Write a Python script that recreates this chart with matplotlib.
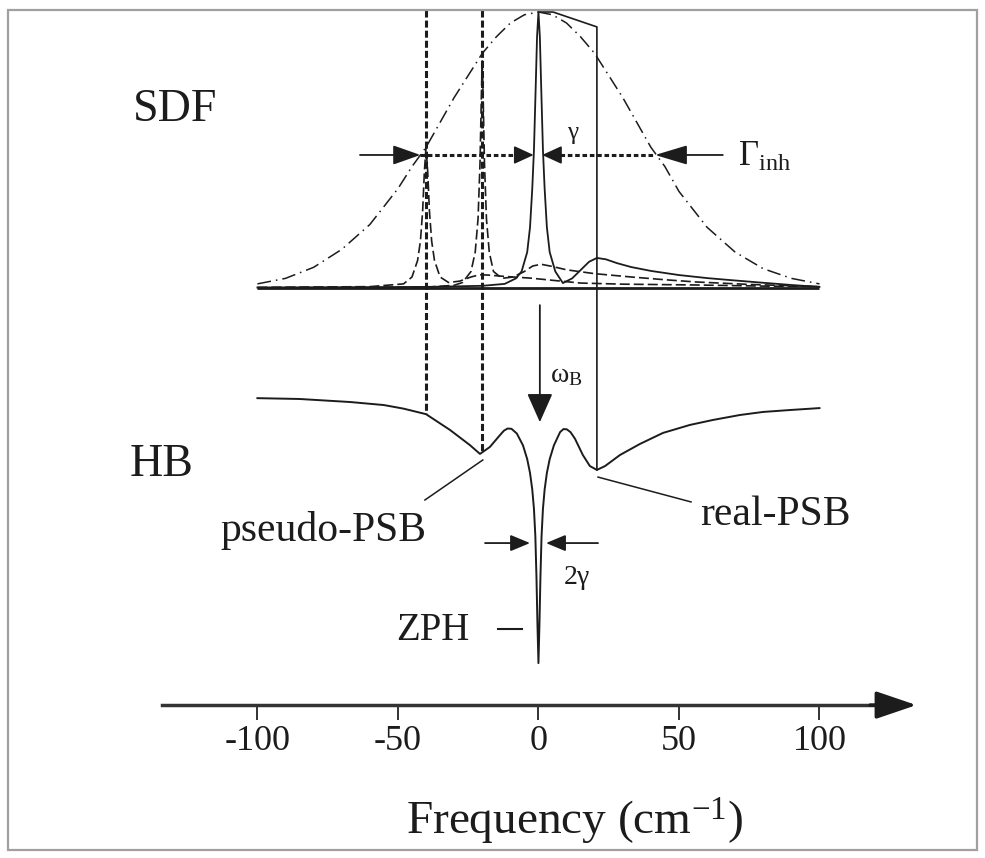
import numpy as np
import matplotlib
matplotlib.use("Agg")
import matplotlib.pyplot as plt
from matplotlib.patches import Rectangle

plt.rcParams["font.family"] = ["Liberation Serif", "DejaVu Serif"]
plt.rcParams["mathtext.fontset"] = "custom"
plt.rcParams["mathtext.rm"] = "Liberation Serif"
plt.rcParams["mathtext.it"] = "Liberation Serif"
plt.rcParams["mathtext.bf"] = "Liberation Serif:bold"

INK = "#1c1c1c"

# frequency axis (cm^-1)
FREQ_TICKS = [-100, -50, 0, 50, 100]
FREQ_TICK_LABELS = ["-100", "-50", "0", "50", "100"]

# inhomogeneous site distribution function (normalised)
SDF_X = [-100, -90, -80, -70, -60, -50, -45, -40, -35, -30, -25, -20, -15, -10, -5, 0,
         5, 10, 15, 20, 25, 30, 35, 40, 45, 50, 60, 70, 80, 90, 100]
SDF_Y = [0.015, 0.035, 0.075, 0.14, 0.23, 0.36, 0.44, 0.51, 0.60, 0.69, 0.77, 0.85, 0.91, 0.96, 0.99, 1.0,
         0.99, 0.96, 0.91, 0.85, 0.77, 0.69, 0.60, 0.51, 0.44, 0.35, 0.22, 0.13, 0.07, 0.035, 0.015]

# homogeneous line of the resonant site: ZPL at 0 plus real phonon sideband
ZPL_X = [-100, -40, -20, -12, -8, -6, -4, -3, -2.2, -1.6, -1.0, -0.5, 0, 0.5, 1.0, 1.6, 2.2, 3, 4, 6,
         8.7, 12, 15, 18, 20.8, 24, 28, 33, 40, 50, 60, 68, 80, 90, 100]
ZPL_Y = [0.002, 0.004, 0.008, 0.015, 0.035, 0.06, 0.13, 0.22, 0.36, 0.50, 0.72, 0.91, 1.0, 0.91, 0.72,
         0.50, 0.36, 0.22, 0.13, 0.06, 0.018, 0.035, 0.065, 0.095, 0.109, 0.104, 0.09, 0.076, 0.062,
         0.047, 0.036, 0.029, 0.019, 0.011, 0.004]

# sites with ZPL at -40 and -20 whose sidebands reach the burn frequency
SITE40_X = [-100, -60, -48, -45, -43, -42, -41.2, -40.6, -40, -39.4, -38.8, -38, -37, -35, -32, -28,
            -24, -21, -18, -12, -3, 5, 15, 30, 56, 80, 100]
SITE40_Y = [0.002, 0.005, 0.015, 0.04, 0.1, 0.17, 0.28, 0.42, 0.51, 0.42, 0.28, 0.17, 0.1, 0.04, 0.02,
            0.025, 0.04, 0.048, 0.047, 0.042, 0.036, 0.028, 0.018, 0.014, 0.011, 0.007, 0.005]
SITE20_X = [-100, -40, -30, -27, -24, -22.5, -21.5, -20.8, -20.3, -20, -19.7, -19.2, -18.5, -17.5, -16,
            -13, -9, -5, -2, 1, 5, 10, 20, 33, 45, 56, 75, 100]
SITE20_Y = [0.001, 0.003, 0.01, 0.02, 0.06, 0.13, 0.25, 0.45, 0.70, 0.83, 0.70, 0.45, 0.25, 0.13, 0.06,
            0.035, 0.04, 0.06, 0.08, 0.086, 0.078, 0.066, 0.052, 0.04, 0.03, 0.022, 0.013, 0.005]

# hole-burned spectrum
HB_X = [-100, -85, -67, -55, -48, -40, -31.5, -24.4, -20.8, -17.3, -13.7, -12.3, -11.0, -9.6, -7.7,
        -5.5, -4, -3, -2.2, -1.6, -1.1, -0.7, -0.35, 0, 0.35, 0.7, 1.1, 1.6, 2.2, 3, 4, 5.5, 7.7,
        8.9, 10.1, 11.4, 13.0, 15.8, 18.3, 20.8, 23.7, 29.0, 36.1, 44.3, 53.9, 62.1, 71.7, 79.9, 89.5, 100]
HB_Y = [-0.399, -0.402, -0.413, -0.424, -0.437, -0.457, -0.514, -0.569, -0.601, -0.576, -0.533, -0.517,
        -0.509, -0.510, -0.527, -0.57, -0.62, -0.67, -0.73, -0.80, -0.90, -1.05, -1.22, -1.359, -1.22,
        -1.05, -0.90, -0.80, -0.73, -0.67, -0.62, -0.57, -0.522, -0.511, -0.512, -0.522, -0.546, -0.605,
        -0.645, -0.659, -0.645, -0.605, -0.565, -0.525, -0.496, -0.478, -0.460, -0.449, -0.442, -0.435]

PSEUDO_PSB_SITES = [-40, -20]
REAL_PSB = 20.8
BURN_FREQ = 0.5
# outline from the ZPL top to the real-PSB marker
PSB_GUIDE_X = [0, 5.2, REAL_PSB]
PSB_GUIDE_Y = [1.0, 1.0, 0.946]
GAMMA_INH_EDGES = [-42, 41.5]
ZPL_EDGES = [-1.7, 1.3]
HOLE_EDGES = [-3.0, 2.7]

AXIS_Y = -1.511
WIDTH_Y = 0.482
HOLE_WIDTH_Y = -0.924


def arrow(ax, tail, tip, head_len, head_w, lw=1.3):
    ax.annotate("", xy=tip, xytext=tail,
                arrowprops=dict(arrowstyle=f"-|>,head_length={head_len},head_width={head_w}",
                                mutation_scale=1, lw=lw, color=INK, shrinkA=0, shrinkB=0))


fig = plt.figure(figsize=(9.85, 8.58), dpi=100)
ax = fig.add_axes([0, 0, 1, 1])
ax.set_xlim(-191.6, 158.9)
ax.set_ylim(-2.065, 1.0435)

# SDF panel
ax.plot([-100, 100], [0, 0], color=INK, lw=2.0, solid_capstyle="butt")
ax.plot(SDF_X, SDF_Y, color=INK, lw=1.1, linestyle=(0, (9, 3.3, 1, 3.3)))
ax.plot(SITE40_X, SITE40_Y, color=INK, lw=1.2, linestyle=(0, (6, 2.4)))
ax.plot(SITE20_X, SITE20_Y, color=INK, lw=1.2, linestyle=(0, (6, 2.4)))
ax.plot(ZPL_X, ZPL_Y, color=INK, lw=1.3)

hb_at = lambda f: float(np.interp(f, HB_X, HB_Y))
ax.plot(PSB_GUIDE_X + [REAL_PSB], PSB_GUIDE_Y + [hb_at(REAL_PSB)], color=INK, lw=1.2)
for f in PSEUDO_PSB_SITES:
    ax.plot([f, f], [1.007, hb_at(f)], color=INK, lw=2.2, linestyle=(0, (2.3, 1.0)))

# inhomogeneous and homogeneous width markers
ax.plot([GAMMA_INH_EDGES[0], -7.7], [WIDTH_Y, WIDTH_Y], color=INK, lw=2.2, linestyle=(0, (1.5, 0.9)))
ax.plot([7.6, GAMMA_INH_EDGES[1]], [WIDTH_Y, WIDTH_Y], color=INK, lw=2.2, linestyle=(0, (1.5, 0.9)))
arrow(ax, (-63.5, WIDTH_Y), (GAMMA_INH_EDGES[0], WIDTH_Y), 17, 6)
arrow(ax, (65.6, WIDTH_Y), (GAMMA_INH_EDGES[1], WIDTH_Y), 20, 6)
arrow(ax, (-8.0, WIDTH_Y), (ZPL_EDGES[0], WIDTH_Y), 12, 5.5)
arrow(ax, (8.0, WIDTH_Y), (ZPL_EDGES[1], WIDTH_Y), 12, 5.5)
ax.text(71, 0.475, r"$\Gamma_{inh}$", fontsize=25, color=INK, ha="left", va="center")
ax.text(12.3, 0.562, "γ", fontsize=18, color=INK, ha="center", va="center")

# burn arrow
arrow(ax, (BURN_FREQ, -0.062), (BURN_FREQ, -0.486), 18, 8)
ax.text(10.0, -0.319, r"$\omega_B$", fontsize=20, color=INK, ha="center", va="center")

# HB panel
ax.plot(HB_X, HB_Y, color=INK, lw=1.4)
ax.plot([-19.8, -40.4], [-0.623, -0.768], color=INK, lw=1.1)
ax.plot([21.2, 54.3], [-0.685, -0.775], color=INK, lw=1.1)
arrow(ax, (-19, HOLE_WIDTH_Y), (HOLE_EDGES[0], HOLE_WIDTH_Y), 12, 5)
arrow(ax, (21.2, HOLE_WIDTH_Y), (HOLE_EDGES[1], HOLE_WIDTH_Y), 12, 5)
ax.text(13.5, -1.05, "2γ", fontsize=20, color=INK, ha="center", va="center")
ax.plot([-14.4, -5.9], [-1.236, -1.236], color=INK, lw=1.5)
ax.text(-37.5, -1.239, "ZPH", fontsize=28, color=INK, ha="center", va="center")
ax.text(-76.7, -0.877, "pseudo-PSB", fontsize=30, color=INK, ha="center", va="center")
ax.text(84.2, -0.822, "real-PSB", fontsize=30, color=INK, ha="center", va="center")

ax.text(-129.4, 0.645, "SDF", fontsize=33, color=INK, ha="center", va="center")
ax.text(-134.2, -0.641, "HB", fontsize=33, color=INK, ha="center", va="center")

# frequency axis with arrow
for side in ("top", "left", "right"):
    ax.spines[side].set_visible(False)
ax.spines["bottom"].set_position(("data", AXIS_Y))
ax.spines["bottom"].set_bounds(-134, 125)
ax.spines["bottom"].set_linewidth(2.5)
ax.spines["bottom"].set_color("#333333")
ax.set_xticks(FREQ_TICKS, FREQ_TICK_LABELS)
ax.set_yticks([])
ax.tick_params(axis="x", direction="out", length=10.8, width=1.4, color="#333333",
               labelsize=26, labelcolor=INK, pad=3.5)
arrow(ax, (118, AXIS_Y), (134.5, AXIS_Y), 25, 8.5, lw=2.5)
ax.set_xlabel("Frequency (cm$^{-1}$)", fontsize=34, color=INK)
ax.xaxis.set_label_coords(575 / 985, 1 - 822 / 858)
ax.xaxis.label.set_va("center")

fig.patches.append(Rectangle((8 / 985, 1 - 850 / 858), 969 / 985, 840 / 858, transform=fig.transFigure,
                             fill=False, edgecolor="#a0a0a0", lw=1.6))

fig.savefig("out.png", dpi=100, facecolor="white")
